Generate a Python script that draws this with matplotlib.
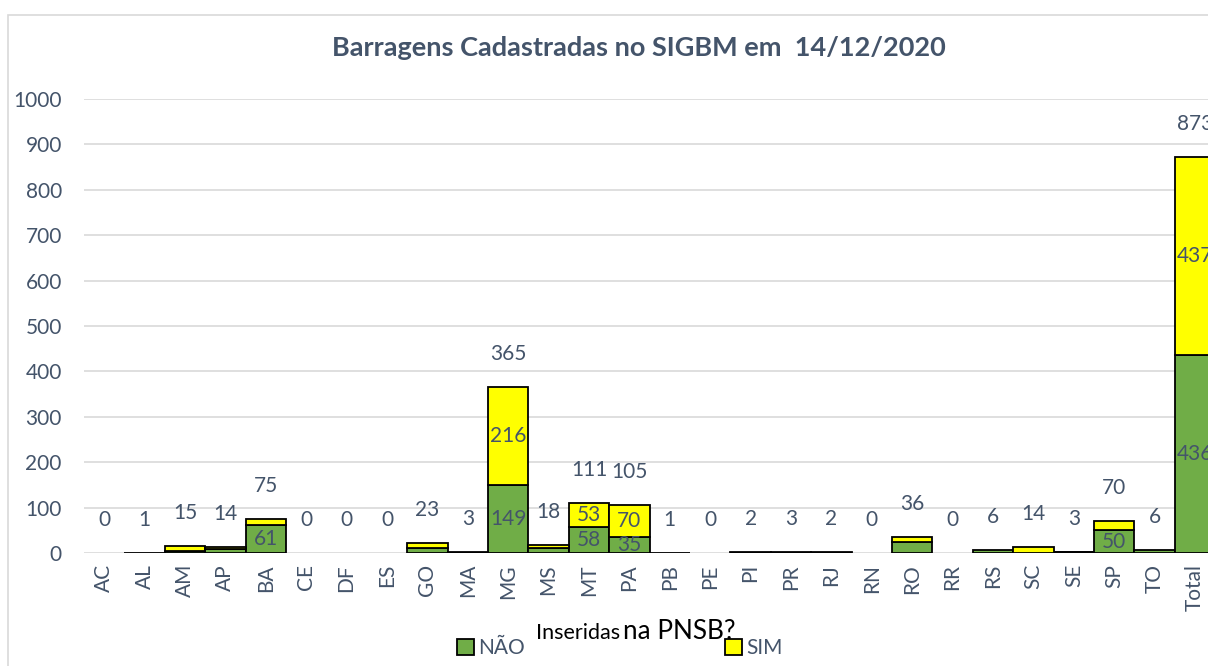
#------------------------------------------------------------------------------
# IMPORTS
#------------------------------------------------------------------------------
import numpy as np
from matplotlib import pyplot as plt
from matplotlib.patches import Rectangle, Patch

#------------------------------------------------------------------------------
# DATA
#------------------------------------------------------------------------------
ufs = ["AC", "AL", "AM", "AP", "BA", "CE", "DF", "ES", "GO", "MA", "MG", "MS",
       "MT", "PA", "PB", "PE", "PI", "PR", "RJ", "RN", "RO", "RR", "RS", "SC",
       "SE", "SP", "TO", "Total"]
nao = [0, 0, 4, 9, 61, 0, 0, 0, 10, 0, 149, 12, 58, 35, 1, 0, 2, 3, 2, 0, 25,
       0, 6, 1, 2, 50, 6, 436]
sim = [0, 1, 11, 5, 14, 0, 0, 0, 13, 3, 216, 6, 53, 70, 0, 0, 0, 0, 0, 0, 11,
       0, 0, 13, 1, 20, 0, 437]

title = "Barragens Cadastradas no SIGBM em  14/12/2020"
yticks = [0, 100, 200, 300, 400, 500, 600, 700, 800, 900, 1000]

#------------------------------------------------------------------------------
# STYLE
#------------------------------------------------------------------------------
GREEN = "#70AD47"
YELLOW = "#FFFF00"
SLATE = "#44546A"
GRID = "#D9D9D9"
FONT = ["Lato", "DejaVu Sans"]
FS = 15

#------------------------------------------------------------------------------
# MAIN
#------------------------------------------------------------------------------
def main():

    plt.rcParams['font.family'] = FONT

    W, H = 1208, 666
    fig = plt.figure(figsize=(W/100, H/100), dpi=100)

    # chart frame (cut off at right and bottom)
    fig.patches.append(Rectangle((8/W, -0.1), 1.2, 1 - 15/H + 0.1,
                                 transform=fig.transFigure, fill=False,
                                 edgecolor=GRID, linewidth=1.2))

    step = 40.4
    ax = fig.add_axes([84/W, 113/H, 28*step/W, 454/H])

    x = np.arange(len(ufs))
    nao_a = np.array(nao)
    sim_a = np.array(sim)
    total = nao_a + sim_a

    lw_n = [1.3 if v > 0 else 0 for v in nao_a]
    lw_s = [1.3 if v > 0 else 0 for v in sim_a]
    ax.bar(x, nao_a, width=1.0, color=GREEN, edgecolor="black",
           linewidth=lw_n, zorder=3)
    ax.bar(x, sim_a, bottom=nao_a, width=1.0, color=YELLOW,
           edgecolor="black", linewidth=lw_s, zorder=3)

    # segment labels
    for i in x:
        if nao_a[i] >= 30:
            ax.text(i, nao_a[i]/2, str(nao_a[i]), ha="center", va="center",
                    fontsize=FS, color=SLATE, zorder=4)
        if sim_a[i] >= 30:
            ax.text(i, nao_a[i] + sim_a[i]/2, str(sim_a[i]), ha="center",
                    va="center", fontsize=FS, color=SLATE, zorder=4)

    # totals above bars
    for i in x:
        ax.annotate(str(total[i]), (i, total[i]), xytext=(0, 33),
                    textcoords="offset pixels", ha="center", va="center",
                    fontsize=FS, color=SLATE, annotation_clip=False)

    ax.set_xlim(-0.5, len(ufs) - 0.5)
    ax.set_ylim(0, 1000)
    ax.set_yticks(yticks)
    ax.set_xticks(x)
    ax.set_xticklabels(ufs, rotation=90)
    ax.tick_params(axis="both", length=0, labelsize=FS, labelcolor=SLATE)
    ax.tick_params(axis="y", pad=16)
    ax.tick_params(axis="x", pad=8)
    ax.grid(axis="y", color=GRID, linewidth=1.2, zorder=0)
    for s in ax.spines.values():
        s.set_visible(False)

    fig.text(639/W, 1 - 48/H, title, ha="center", va="center",
             fontsize=19.5, fontweight="bold", color=SLATE)

    # axis title overlapping legend
    fig.text(620/W, 1 - 639/H, "Inseridas", ha="right", va="baseline",
             fontsize=15.5, color="black")
    fig.text(623/W, 1 - 639/H, "na PNSB?", ha="left", va="baseline",
             fontsize=18.8, color="black")

    h_nao = Patch(facecolor=GREEN, edgecolor="black", linewidth=1.3)
    h_sim = Patch(facecolor=YELLOW, edgecolor="black", linewidth=1.3)
    for h, lab, xp in [(h_nao, "NÃO", 457), (h_sim, "SIM", 725)]:
        lg = fig.legend([h], [lab], loc="center left",
                        bbox_to_anchor=(xp/W, 1 - 648/H), frameon=False,
                        handlelength=0.8, handleheight=0.8, handletextpad=0.2,
                        borderpad=0, borderaxespad=0, fontsize=FS)
        for t in lg.get_texts():
            t.set_color(SLATE)

    plt.savefig("out.png", dpi=100)

#------------------------------------------------------------------------------
if __name__ == '__main__':
    main()
